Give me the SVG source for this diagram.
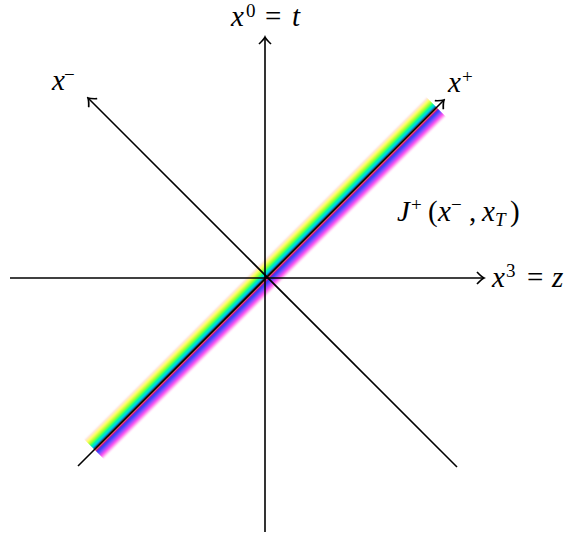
<svg xmlns="http://www.w3.org/2000/svg" width="568" height="538" viewBox="0 0 568 538">
<style>
.ax{stroke:#000;stroke-width:1.6;fill:none}
.lbl{font-family:"Liberation Serif","DejaVu Serif",serif;font-size:29px;fill:#000}
.it{font-style:italic}
.sup{font-size:19px}
.sub{font-size:19px;font-style:italic}
</style>
<defs>
<marker id="arr" viewBox="-9 -7 11 14" markerWidth="11" markerHeight="14" refX="0" refY="0" orient="auto" markerUnits="userSpaceOnUse">
<path d="M-7,-6 Q-2.5,-1.2 0,0 Q-2.5,1.2 -7,6" stroke="#000" stroke-width="1.7" fill="none"/>
</marker>
<linearGradient id="rb" gradientUnits="userSpaceOnUse" x1="0" y1="-15" x2="0" y2="15">
<stop offset="0" stop-color="#fff" stop-opacity="0"/>
<stop offset="0.08" stop-color="#ffe6e0"/>
<stop offset="0.18" stop-color="#ffff60"/>
<stop offset="0.28" stop-color="#a0ff30"/>
<stop offset="0.36" stop-color="#00ff90"/>
<stop offset="0.44" stop-color="#00c8ff"/>
<stop offset="0.5" stop-color="#202060"/>
<stop offset="0.53" stop-color="#ffe000"/>
<stop offset="0.57" stop-color="#ff0070"/>
<stop offset="0.64" stop-color="#2040ff"/>
<stop offset="0.73" stop-color="#8050ff"/>
<stop offset="0.83" stop-color="#ff50f0"/>
<stop offset="0.92" stop-color="#ffc8f4"/>
<stop offset="1" stop-color="#fff" stop-opacity="0"/>
</linearGradient>
<filter id="bl" x="-0.1" y="-1" width="1.2" height="3"><feGaussianBlur stdDeviation="0.7"/></filter>
</defs>
<g id="band" transform="translate(265,278) rotate(-45)">
<rect x="-242" y="-15" width="484" height="30" fill="url(#rb)" filter="url(#bl)"/>
</g>
<g id="connectors">
<line id="t-axis" class="ax" x1="265" y1="532" x2="265" y2="37" marker-end="url(#arr)"/>
<line id="z-axis" class="ax" x1="10" y1="278" x2="484" y2="278" marker-end="url(#arr)"/>
<line id="xminus-axis" class="ax" x1="457" y1="467" x2="88" y2="98" marker-end="url(#arr)"/>
<line id="xplus-axis" class="ax" x1="78" y1="466" x2="444" y2="100" marker-end="url(#arr)"/>
</g>
<g id="label-t"><text class="lbl" y="26"><tspan class="it" x="231">x</tspan><tspan class="sup" x="246" y="17">0</tspan><tspan x="265" y="26">=</tspan><tspan class="it" x="292">t</tspan></text></g>
<g id="label-xminus"><text class="lbl" y="90"><tspan class="it" x="52">x</tspan><tspan class="sup" x="64" y="81">−</tspan></text></g>
<g id="label-xplus"><text class="lbl" y="92"><tspan class="it" x="448">x</tspan><tspan class="sup" x="462" y="83">+</tspan></text></g>
<g id="label-J"><text class="lbl" y="221"><tspan class="it" x="397">J</tspan><tspan class="sup" x="411" y="211">+</tspan><tspan x="428" y="221">(</tspan><tspan class="it" x="438">x</tspan><tspan class="sup" x="451" y="211">−</tspan><tspan x="469" y="221">,</tspan><tspan class="it" x="482">x</tspan><tspan class="sub" x="495" y="226">T</tspan><tspan x="510" y="221">)</tspan></text></g>
<g id="label-z"><text class="lbl" y="287"><tspan class="it" x="492">x</tspan><tspan class="sup" x="506" y="277">3</tspan><tspan x="527" y="287">=</tspan><tspan class="it" x="552">z</tspan></text></g>
</svg>
